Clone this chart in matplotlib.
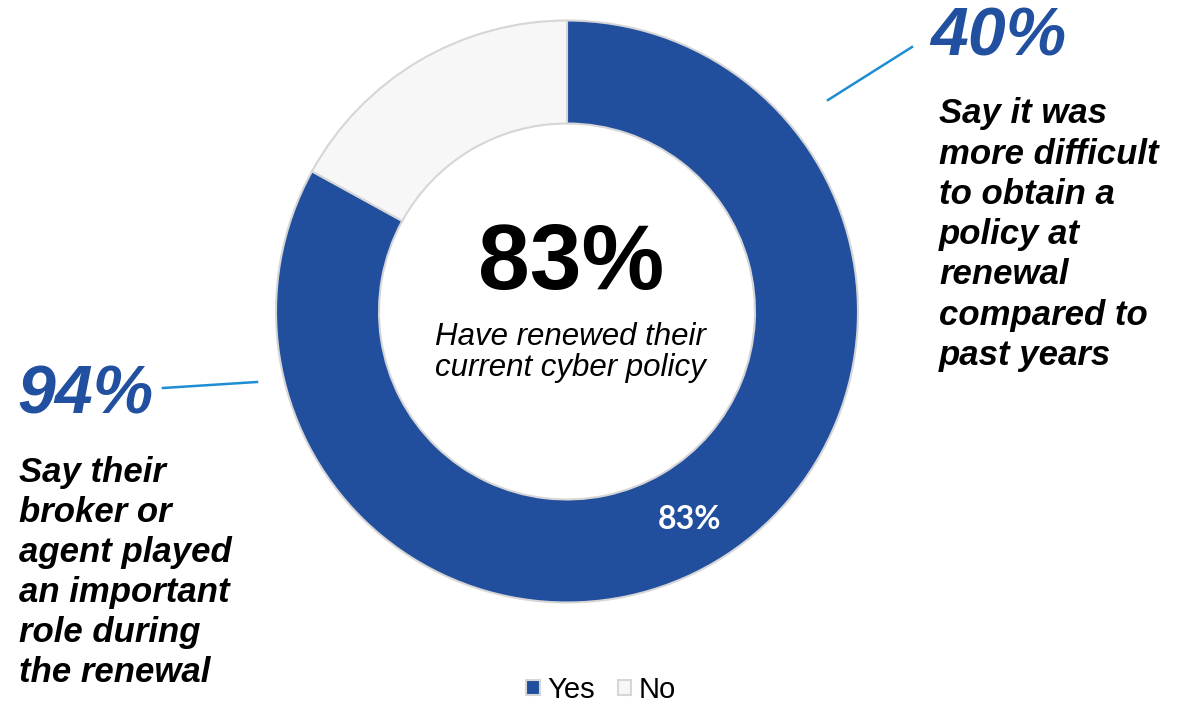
import matplotlib.pyplot as plt

labels = ["Yes", "No"]
shares = [83, 17]
colors = ["#214f9e", "#f7f7f7"]

headline = "83%"
headline_caption = "Have renewed their\ncurrent cyber policy"

right_stat = "40%"
right_text = "Say it was\nmore difficult\nto obtain a\npolicy at\nrenewal\ncompared to\npast years"
left_stat = "94%"
left_text = "Say their\nbroker or\nagent played\nan important\nrole during\nthe renewal"

W, H = 1189, 705
fig = plt.figure(figsize=(W / 100, H / 100), dpi=100)
ax = fig.add_axes([0, 0, 1, 1])

cx, cy, r = 567, H - 311.5, 291
wedges, _, autotexts = ax.pie(
    shares,
    colors=colors,
    startangle=90,
    counterclock=False,
    center=(cx, cy),
    radius=r,
    autopct=lambda p: f"{p:.0f}%" if p > 50 else "",
    pctdistance=0.83,
    wedgeprops=dict(width=r * 0.354, edgecolor="#d6d6d6", linewidth=1.5),
    frame=True,
)
ax.set_xlim(0, W)
ax.set_ylim(0, H)
ax.set_aspect("equal")
ax.axis("off")
for t in autotexts:
    t.set_color("white")
    t.set_fontsize(23)
    t.set_fontweight("bold")
    t.set_family("Lato")

# center summary (multi-line texts are anchored on their last baseline)
ax.text(cx + 4, H - 289, headline, ha="center", va="baseline",
        fontsize=67, fontweight="bold", family="Liberation Sans")
ax.text(cx + 3, H - 376, headline_caption, ha="center", va="baseline",
        fontsize=22.5, style="italic", family="Liberation Sans", linespacing=1.05)

blue = "#2150a0"
line_blue = "#1f8dd3"
bi = dict(fontweight="bold", style="italic", family="Liberation Sans")

# right callout
ax.plot([828, 912], [H - 100, H - 47], color=line_blue, lw=1.8)
ax.text(930, H - 55, right_stat, ha="left", va="baseline", fontsize=49,
        color=blue, **bi)
ax.text(939, H - 365, right_text, ha="left", va="baseline", fontsize=25,
        linespacing=1.28, **bi)

# left callout
ax.plot([163, 257], [H - 388, H - 382], color=line_blue, lw=1.8)
ax.text(17, H - 413, left_stat, ha="left", va="baseline", fontsize=49,
        color=blue, **bi)
ax.text(19, H - 682, left_text, ha="left", va="baseline", fontsize=25,
        linespacing=1.27, **bi)

ax.legend(wedges, labels, loc="center", bbox_to_anchor=(601 / W, 1 - 690 / H),
          ncol=2, frameon=False, handlelength=0.45, handleheight=0.45,
          handletextpad=0.25, columnspacing=0.8,
          prop={"family": "Liberation Sans", "size": 21})

fig.savefig("out.png", dpi=100)
